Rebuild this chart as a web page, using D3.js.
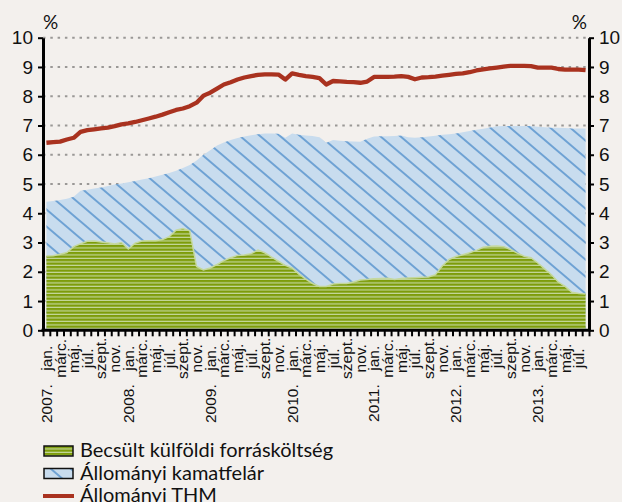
<!DOCTYPE html>
<html>
<head>
<meta charset="utf-8">
<script src="https://cdn.jsdelivr.net/npm/d3@7"></script>
<style>
  body { margin: 0; background: #f3f0ed; }
  svg { display: block; font-family: Lato, "Liberation Sans", sans-serif; }
</style>
</head>
<body>
<svg id="chart" width="622" height="502"></svg>
<script>
// monthly data, 2007. jan. - 2013. aug.
var startYear = 2007
var monthNames = ["jan.","febr.","márc.","ápr.","máj.","jún.","júl.","aug.","szept.","okt.","nov.","dec."]

var thm = [6.41,6.43,6.45,6.52,6.58,6.78,6.84,6.87,6.90,6.93,6.98,7.04,
  7.07,7.12,7.18,7.24,7.30,7.37,7.45,7.53,7.58,7.66,7.78,8.02,
  8.12,8.26,8.40,8.48,8.57,8.64,8.69,8.73,8.75,8.75,8.74,8.57,
  8.78,8.73,8.69,8.66,8.62,8.40,8.52,8.51,8.49,8.48,8.46,8.50,
  8.66,8.66,8.66,8.67,8.69,8.66,8.58,8.64,8.65,8.67,8.70,8.73,
  8.76,8.78,8.82,8.88,8.92,8.95,8.98,9.01,9.04,9.04,9.04,9.03,
  8.98,8.98,8.98,8.93,8.91,8.91,8.91,8.89]

// top of the blue area
var kamatfelar = [4.39,4.42,4.45,4.50,4.56,4.77,4.80,4.85,4.88,4.93,4.98,5.02,
  5.06,5.10,5.15,5.20,5.26,5.32,5.38,5.45,5.55,5.65,5.80,6.00,
  6.15,6.32,6.42,6.50,6.57,6.62,6.67,6.70,6.73,6.73,6.72,6.58,
  6.73,6.68,6.66,6.64,6.60,6.41,6.50,6.48,6.46,6.45,6.44,6.55,
  6.62,6.63,6.63,6.64,6.66,6.60,6.58,6.60,6.62,6.65,6.68,6.70,
  6.73,6.77,6.81,6.85,6.89,6.93,6.97,6.98,6.98,6.98,6.98,6.98,
  6.96,6.94,6.92,6.92,6.91,6.90,6.90,6.90]

var forraskoltseg = [2.54,2.55,2.60,2.66,2.86,2.96,3.04,3.05,3.02,2.99,2.95,3.00,
  2.78,2.98,3.05,3.06,3.06,3.10,3.20,3.42,3.48,3.40,2.18,2.06,
  2.13,2.25,2.38,2.48,2.56,2.57,2.62,2.74,2.65,2.50,2.36,2.22,
  2.13,1.92,1.75,1.60,1.50,1.50,1.58,1.60,1.60,1.65,1.72,1.74,
  1.76,1.77,1.78,1.74,1.77,1.79,1.80,1.81,1.82,1.90,2.20,2.42,
  2.52,2.58,2.65,2.73,2.84,2.87,2.88,2.86,2.76,2.64,2.53,2.48,
  2.30,2.10,1.90,1.65,1.50,1.30,1.26,1.24]

var legendNames = ["Becsült külföldi forrásköltség", "Állományi kamatfelár", "Állományi THM"]

var months = d3.range(thm.length)

var svg = d3.select("#chart")
var pLeft = 43, pRight = 589, pTop = 37.7, pBottom = 330.3

var x = d3.scaleBand().domain(months).range([pLeft, pRight])
var xc = i => x(i) + x.bandwidth() / 2
var xb = d3.scaleLinear().domain([0, months.length]).range([pLeft, pRight])
var y = d3.scaleLinear().domain([0, 10]).range([pBottom, pTop])

// patterns
var defs = svg.append("defs")
var pg = defs.append("pattern").attr("id", "green").attr("patternUnits", "userSpaceOnUse")
  .attr("width", 4).attr("height", 3.5)
pg.append("rect").attr("width", 4).attr("height", 3.5).attr("fill", "#c5d89e")
pg.append("rect").attr("width", 4).attr("height", 2.3).attr("fill", "#7d9c0a")

var pw = 20, ph = 17
var pb = defs.append("pattern").attr("id", "blue").attr("patternUnits", "userSpaceOnUse")
  .attr("width", pw).attr("height", ph)
pb.append("rect").attr("width", pw).attr("height", ph).attr("fill", "#c8dcee")
;[-pw, 0, pw].forEach(o => {
  pb.append("line").attr("x1", o - 2).attr("y1", -2 * ph / pw).attr("x2", o + pw + 2).attr("y2", ph + 2 * ph / pw)
    .attr("stroke", "#6ea2d4").attr("stroke-width", 2)
})

// grid
svg.append("g").selectAll("line").data(d3.range(1, 11)).join("line")
  .attr("x1", pLeft).attr("x2", pRight)
  .attr("y1", d => y(d)).attr("y2", d => y(d))
  .attr("stroke", "#9a9896").attr("stroke-width", 2)
  .attr("stroke-dasharray", "2.5,4.8")

// areas
var area = vals => d3.area().x(i => xc(i)).y0(y(0)).y1(i => y(vals[i]))(months)

svg.append("path").attr("d", area(kamatfelar)).attr("fill", "url(#blue)")
svg.append("path").attr("d", area(forraskoltseg)).attr("fill", "url(#green)")
svg.append("path")
  .attr("d", d3.line().x(i => xc(i)).y(i => y(forraskoltseg[i]))(months))
  .attr("fill", "none").attr("stroke", "#c5d89e").attr("stroke-width", 1.5)

svg.append("path")
  .attr("d", d3.line().x(i => xc(i)).y(i => y(thm[i]))(months))
  .attr("fill", "none").attr("stroke", "#a9321f").attr("stroke-width", 4.3)
  .attr("stroke-linejoin", "round")

// axes
var yl = svg.append("g").attr("transform", `translate(${pLeft},0)`)
  .call(d3.axisLeft(y).ticks(10).tickSizeInner(5).tickSizeOuter(0).tickPadding(5))
var yr = svg.append("g").attr("transform", `translate(${pRight},0)`)
  .call(d3.axisRight(y).ticks(10).tickSizeInner(5).tickSizeOuter(0).tickPadding(5))
;[yl, yr].forEach(g => {
  g.select(".domain").attr("stroke", "#000").attr("stroke-width", 3)
  g.selectAll(".tick line").attr("stroke", "#000").attr("stroke-width", 2)
  g.selectAll("text").attr("font-size", 19).attr("fill", "#111").attr("font-family", null)
})

var xt = svg.append("g").attr("transform", `translate(0,${pBottom})`)
  .call(d3.axisBottom(xb).tickValues(d3.range(months.length + 1)).tickFormat("").tickSizeInner(6).tickSizeOuter(0))
xt.select(".domain").attr("stroke", "#000").attr("stroke-width", 3).attr("d", `M${pLeft - 1.5},0H${pRight + 1.5}`)
xt.selectAll(".tick line").attr("stroke", "#000").attr("stroke-width", 2)

// month labels centred below the axis, year written further down
var xl = svg.append("g").attr("transform", `translate(0,${pBottom})`)
  .call(d3.axisBottom(x).tickValues(months.filter(i => i % 2 == 0)).tickFormat(i => monthNames[i % 12]).tickSize(0))
xl.select(".domain").remove()
xl.selectAll("text")
  .attr("font-size", 15.5).attr("fill", "#111").attr("font-family", null)
  .attr("transform", "rotate(-90)")
  .attr("text-anchor", "middle")
  .attr("x", -28).attr("y", 0).attr("dy", "0.35em")
xl.selectAll(".tick").filter(i => i % 12 == 0).append("text")
  .attr("font-size", 15.5).attr("fill", "#111")
  .attr("transform", "rotate(-90)")
  .attr("text-anchor", "end")
  .attr("x", -54).attr("dy", "0.35em")
  .text(i => (startYear + i / 12) + ".")

svg.append("text").attr("x", pLeft).attr("y", 29).attr("font-size", 19).attr("fill", "#111").text("%")
svg.append("text").attr("x", pRight - 2).attr("y", 29).attr("text-anchor", "end").attr("font-size", 19).attr("fill", "#111").text("%")

// legend
var lg = svg.append("g").attr("transform", "translate(44,446)")
var fills = ["url(#green)", "url(#blue)"]
lg.selectAll("rect").data(fills).join("rect")
  .attr("x", 0).attr("y", (d, i) => i * 22.5).attr("width", 29).attr("height", 10)
  .attr("fill", d => d).attr("stroke", "#111").attr("stroke-width", 1.5)
lg.append("line").attr("x1", -1).attr("x2", 30).attr("y1", 50).attr("y2", 50)
  .attr("stroke", "#a9321f").attr("stroke-width", 4)
lg.selectAll("text.leg").data(legendNames).join("text").attr("class", "leg")
  .attr("x", 36).attr("y", (d, i) => 11 + i * 22.5)
  .attr("font-size", 20).attr("fill", "#111")
  .text(d => d)
</script>
</body>
</html>
